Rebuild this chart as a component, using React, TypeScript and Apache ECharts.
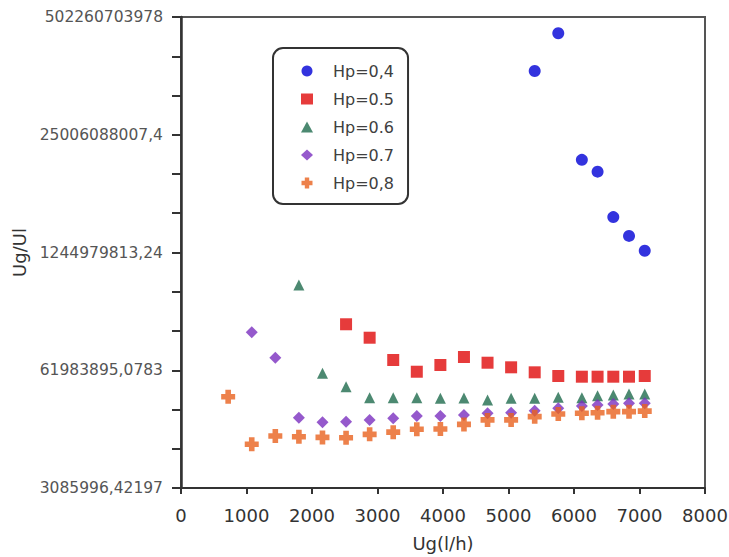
import React, { useEffect, useRef } from "react";
import * as echarts from "echarts";

const ugValues = [720, 1080, 1440, 1800, 2160, 2520, 2880, 3240, 3600, 3960, 4320, 4680, 5040, 5400, 5760, 6120, 6360, 6600, 6840, 7080];

const hp04 = [null, null, null, null, null, null, null, null, null, null, null, null, null, 1.27e11, 3.32e11, 1.32e10, 9.76e9, 3.07e9, 1.9e9, 1.3e9];
const hp05 = [null, null, null, null, null, 2.0e8, 1.42e8, 8.05e7, 5.97e7, 7.09e7, 8.69e7, 7.51e7, 6.68e7, 5.88e7, 5.35e7, 5.26e7, 5.26e7, 5.26e7, 5.26e7, 5.35e7];
const hp06 = [null, null, null, 5.44e8, 5.73e7, 4.08e7, 3.08e7, 3.08e7, 3.08e7, 3.03e7, 3.05e7, 2.9e7, 3.03e7, 3.03e7, 3.11e7, 3.08e7, 3.24e7, 3.3e7, 3.38e7, 3.38e7];
const hp07 = [null, 1.63e8, 8.54e7, 1.85e7, 1.65e7, 1.67e7, 1.75e7, 1.82e7, 1.93e7, 1.93e7, 1.98e7, 2.07e7, 2.1e7, 2.21e7, 2.35e7, 2.49e7, 2.56e7, 2.62e7, 2.67e7, 2.67e7];
const hp08 = [3.16e7, 9.39e6, 1.16e7, 1.14e7, 1.12e7, 1.11e7, 1.21e7, 1.28e7, 1.38e7, 1.39e7, 1.56e7, 1.75e7, 1.75e7, 1.9e7, 2.03e7, 2.07e7, 2.1e7, 2.16e7, 2.16e7, 2.19e7];

const seriesNames = ["Hp=0,4", "Hp=0.5", "Hp=0.6", "Hp=0.7", "Hp=0,8"];

const yLabelValues = [3085996.42197, 61983895.0783, 1244979813.24, 25006088007.4, 502260703978];
const yTickLabels = ["3085996,42197", "61983895,0783", "1244979813,24", "25006088007,4", "502260703978"];

const xTicks = [0, 1000, 2000, 3000, 4000, 5000, 6000, 7000, 8000];

const crossPath = "path://M3,0 H7 V3 H10 V7 H7 V10 H3 V7 H0 V3 H3 Z";

function toPoints(vals: (number | null)[]) {
  const out: [number, number][] = [];
  vals.forEach((v, i) => {
    if (v != null) out.push([ugValues[i], v]);
  });
  return out;
}

export default function App() {
  const ref = useRef<HTMLDivElement>(null);
  useEffect(() => {
    if (!ref.current) return;
    const chart = echarts.init(ref.current, null, { renderer: "svg" });
    const yMin = yLabelValues[0];
    const yMax = yLabelValues[yLabelValues.length - 1];
    const tickVals: number[] = [];
    for (let i = 0; i < yLabelValues.length; i++) {
      tickVals.push(yLabelValues[i]);
      if (i < yLabelValues.length - 1) {
        const a = yLabelValues[i];
        const b = yLabelValues[i + 1];
        tickVals.push(a * Math.pow(b / a, 1 / 3));
        tickVals.push(a * Math.pow(b / a, 2 / 3));
      }
    }
    const fmtY = (v: number) => {
      let best = 0;
      let bd = Infinity;
      yLabelValues.forEach((lv, i) => {
        const d = Math.abs(Math.log(v) - Math.log(lv));
        if (d < bd) {
          bd = d;
          best = i;
        }
      });
      return bd < 0.05 ? yTickLabels[best] : "";
    };
    const font = "DejaVu Sans";
    chart.setOption({
      animation: false,
      backgroundColor: "#ffffff",
      grid: {
        left: 181,
        right: 24,
        top: 17,
        bottom: 69,
        show: true,
        borderColor: "#555",
        borderWidth: 2,
        containLabel: false,
        outerBoundsMode: "none",
      },
      legend: {
        orient: "vertical",
        left: 273,
        top: 48,
        padding: [15, 14, 13, 28],
        itemWidth: 12,
        itemHeight: 11,
        itemGap: 12,
        borderColor: "#333",
        borderWidth: 2,
        borderRadius: 10,
        backgroundColor: "#fff",
        textStyle: { fontFamily: font, fontSize: 16, color: "#404040", padding: [0, 0, 0, 15] },
        data: seriesNames,
      },
      xAxis: {
        type: "value",
        min: xTicks[0],
        max: xTicks[xTicks.length - 1],
        interval: 1000,
        name: "Ug(l/h)",
        nameLocation: "middle",
        nameGap: 46,
        nameTextStyle: { fontFamily: font, fontSize: 18, color: "#333" },
        axisLine: { show: true, lineStyle: { color: "#333", width: 2 } },
        axisTick: { show: true, inside: false, length: 6, lineStyle: { color: "#333", width: 2 } },
        axisLabel: { fontFamily: font, fontSize: 18, color: "#333", margin: 18, formatter: (v: number) => String(v) },
        splitLine: { show: false },
      },
      yAxis: {
        type: "log",
        logBase: Math.E,
        min: yMin,
        max: yMax,
        name: "Ug/Ul",
        nameLocation: "middle",
        nameGap: 146,
        nameRotate: 90,
        nameTextStyle: { fontFamily: font, fontSize: 18, color: "#333" },
        axisLine: { show: true, lineStyle: { color: "#333", width: 2.5 } },
        axisTick: { show: true, inside: false, length: 9, customValues: tickVals, lineStyle: { color: "#333", width: 2 } },
        axisLabel: {
          fontFamily: font,
          fontSize: 15.5,
          color: "#555",
          margin: 18,
          customValues: yLabelValues,
          formatter: fmtY,
        },
        splitLine: { show: false },
        minorTick: { show: false },
      },
      series: [
        { name: seriesNames[0], type: "scatter", symbol: "circle", symbolSize: 12, itemStyle: { color: "#0000d6" }, data: toPoints(hp04) },
        { name: seriesNames[1], type: "scatter", symbol: "rect", symbolSize: 12, itemStyle: { color: "#e00a0a" }, data: toPoints(hp05) },
        { name: seriesNames[2], type: "scatter", symbol: "triangle", symbolSize: 11, itemStyle: { color: "#1f6b4e" }, data: toPoints(hp06) },
        { name: seriesNames[3], type: "scatter", symbol: "diamond", symbolSize: 12, itemStyle: { color: "#7a2fbf" }, data: toPoints(hp07) },
        { name: seriesNames[4], type: "scatter", symbol: crossPath, symbolSize: 14, itemStyle: { color: "#e8621e" }, data: toPoints(hp08) },
      ],
    });
    return () => chart.dispose();
  }, []);
  return <div ref={ref} style={{ position: "fixed", left: 0, top: 0, width: 729, height: 557 }} />;
}
